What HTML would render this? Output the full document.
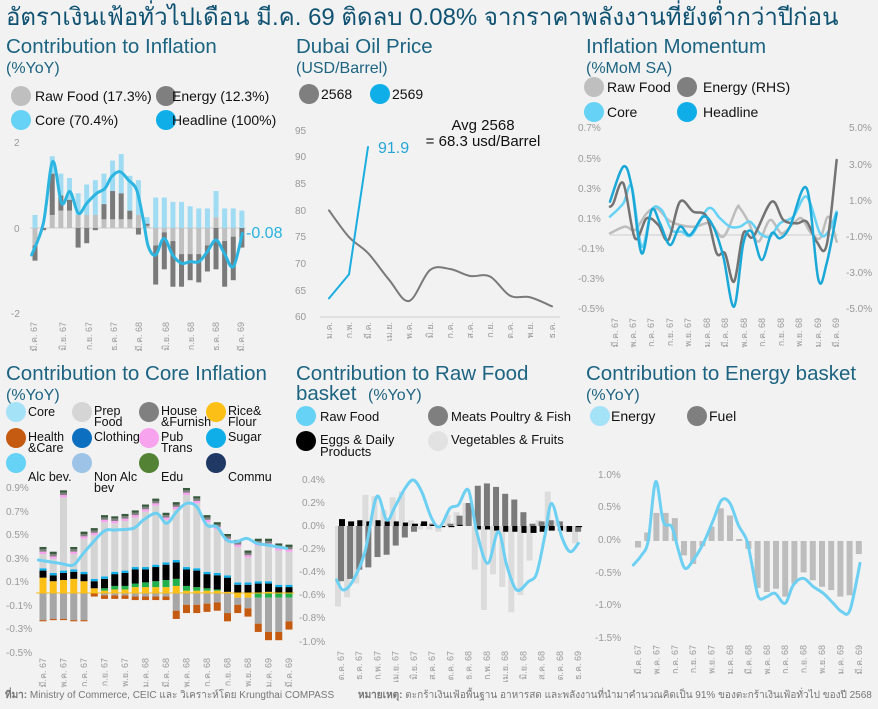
<!DOCTYPE html>
<html><head><meta charset="utf-8">
<style>
html,body{margin:0;padding:0;background:#f2f2f2;}
svg{display:block;font-family:"Liberation Sans","Noto Sans CJK SC",sans-serif;}
.t{fill:#1d6482;font-size:20.5px;}
.st{fill:#1d6482;font-size:16px;}
.lg{fill:#111;font-size:14px;}
.ax{fill:#999;font-size:10px;}
.xl{fill:#999;font-size:9px;}
</style></head><body>
<svg id="s" width="878" height="709" viewBox="0 0 878 709" xmlns="http://www.w3.org/2000/svg">
<rect width="878" height="709" fill="#f2f2f2"/>
<text x="6" y="25" fill="#0f5272" font-size="24" font-family="'Liberation Sans','Noto Sans CJK SC',sans-serif">อัตราเงินเฟ้อทั่วไปเดือน มี.ค. 69 ติดลบ 0.08% จากราคาพลังงานที่ยังต่ำกว่าปีก่อน</text>

<!-- Panel 1 -->
<text class="t" x="6" y="53">Contribution to Inflation</text>
<text class="st" x="6" y="73">(%YoY)</text>
<circle cx="21" cy="96" r="10" fill="#bfbfbf"/><text class="lg" x="35" y="101">Raw Food (17.3%)</text>
<circle cx="166" cy="96" r="10" fill="#7f7f7f"/><text class="lg" x="172" y="101">Energy (12.3%)</text>
<circle cx="21" cy="120" r="10" fill="#66d2f5"/><text class="lg" x="35" y="125">Core (70.4%)</text>
<circle cx="166" cy="120" r="10" fill="#10aee8"/><text class="lg" x="172" y="125">Headline (100%)</text>
<text class="ax" x="14" y="146">2</text><text class="ax" x="14" y="232">0</text><text class="ax" x="11" y="317">-2</text>
<line x1="30" y1="228" x2="246" y2="228" stroke="#ccc" stroke-width="1"/>
<g id="p1"></g>
<text x="246" y="238" fill="#26b3df" font-size="16">-0.08</text>
<g class="xl">
<text transform="translate(37,322) rotate(-90)" text-anchor="end">มี.ค. 67</text>
<text transform="translate(66,322) rotate(-90)" text-anchor="end">มิ.ย. 67</text>
<text transform="translate(92,322) rotate(-90)" text-anchor="end">ก.ย. 67</text>
<text transform="translate(117,322) rotate(-90)" text-anchor="end">ธ.ค. 67</text>
<text transform="translate(142,322) rotate(-90)" text-anchor="end">มี.ค. 68</text>
<text transform="translate(169,322) rotate(-90)" text-anchor="end">มิ.ย. 68</text>
<text transform="translate(194,322) rotate(-90)" text-anchor="end">ก.ย. 68</text>
<text transform="translate(219,322) rotate(-90)" text-anchor="end">ธ.ค. 68</text>
<text transform="translate(244,322) rotate(-90)" text-anchor="end">มี.ค. 69</text>
</g>

<!-- Panel 2 -->
<text class="t" x="296" y="53">Dubai Oil Price</text>
<text class="st" x="296" y="73">(USD/Barrel)</text>
<circle cx="309" cy="94" r="10" fill="#7f7f7f"/><text class="lg" x="321" y="99">2568</text>
<circle cx="380" cy="94" r="10" fill="#10aee8"/><text class="lg" x="392" y="99">2569</text>
<g class="ax">
<text x="295" y="134">95</text><text x="295" y="160">90</text><text x="295" y="187">85</text><text x="295" y="214">80</text><text x="295" y="240">75</text><text x="295" y="267">70</text><text x="295" y="294">65</text><text x="295" y="320">60</text>
</g>
<line x1="320" y1="317" x2="560" y2="317" stroke="#ccc"/>
<text x="483" y="130" fill="#111" font-size="15" text-anchor="middle">Avg 2568</text>
<text x="483" y="146" fill="#111" font-size="15" text-anchor="middle">= 68.3 usd/Barrel</text>
<text x="378" y="153" fill="#26a6d6" font-size="16">91.9</text>
<g id="p2"></g>
<g class="xl">
<text transform="translate(332,322) rotate(-90)" text-anchor="end">ม.ค.</text>
<text transform="translate(352,322) rotate(-90)" text-anchor="end">ก.พ.</text>
<text transform="translate(371,322) rotate(-90)" text-anchor="end">มี.ค.</text>
<text transform="translate(392,322) rotate(-90)" text-anchor="end">เม.ย.</text>
<text transform="translate(412,322) rotate(-90)" text-anchor="end">พ.ค.</text>
<text transform="translate(433,322) rotate(-90)" text-anchor="end">มิ.ย.</text>
<text transform="translate(453,322) rotate(-90)" text-anchor="end">ก.ค.</text>
<text transform="translate(473,322) rotate(-90)" text-anchor="end">ส.ค.</text>
<text transform="translate(493,322) rotate(-90)" text-anchor="end">ก.ย.</text>
<text transform="translate(513,322) rotate(-90)" text-anchor="end">ต.ค.</text>
<text transform="translate(533,322) rotate(-90)" text-anchor="end">พ.ย.</text>
<text transform="translate(555,322) rotate(-90)" text-anchor="end">ธ.ค.</text>
</g>

<!-- Panel 3 -->
<text class="t" x="586" y="53">Inflation Momentum</text>
<text class="st" x="586" y="73">(%MoM SA)</text>
<circle cx="594" cy="87" r="10" fill="#bfbfbf"/><text class="lg" x="607" y="92">Raw Food</text>
<circle cx="687" cy="87" r="10" fill="#7f7f7f"/><text class="lg" x="703" y="92">Energy (RHS)</text>
<circle cx="594" cy="112" r="10" fill="#66d2f5"/><text class="lg" x="607" y="117">Core</text>
<circle cx="687" cy="112" r="10" fill="#10aee8"/><text class="lg" x="703" y="117">Headline</text>
<g class="ax">
<text x="578" y="131">0.7%</text><text x="578" y="162">0.5%</text><text x="578" y="192">0.3%</text><text x="578" y="222">0.1%</text><text x="578" y="252">-0.1%</text><text x="578" y="282">-0.3%</text><text x="578" y="312">-0.5%</text>
<text x="849" y="131">5.0%</text><text x="849" y="168">3.0%</text><text x="849" y="204">1.0%</text><text x="846" y="240">-1.0%</text><text x="846" y="276">-3.0%</text><text x="846" y="312">-5.0%</text>
</g>
<line x1="610" y1="235" x2="838" y2="235" stroke="#ccc"/>
<g id="p3"></g>
<g class="xl">
<text transform="translate(618,318) rotate(-90)" text-anchor="end">มี.ค. 67</text>
<text transform="translate(636,318) rotate(-90)" text-anchor="end">พ.ค. 67</text>
<text transform="translate(654,318) rotate(-90)" text-anchor="end">ก.ค. 67</text>
<text transform="translate(673,318) rotate(-90)" text-anchor="end">ก.ย. 67</text>
<text transform="translate(691,318) rotate(-90)" text-anchor="end">พ.ย. 67</text>
<text transform="translate(710,318) rotate(-90)" text-anchor="end">ม.ค. 68</text>
<text transform="translate(728,318) rotate(-90)" text-anchor="end">มี.ค. 68</text>
<text transform="translate(747,318) rotate(-90)" text-anchor="end">พ.ค. 68</text>
<text transform="translate(765,318) rotate(-90)" text-anchor="end">ก.ค. 68</text>
<text transform="translate(784,318) rotate(-90)" text-anchor="end">ก.ย. 68</text>
<text transform="translate(802,318) rotate(-90)" text-anchor="end">พ.ย. 68</text>
<text transform="translate(821,318) rotate(-90)" text-anchor="end">ม.ค. 69</text>
<text transform="translate(839,318) rotate(-90)" text-anchor="end">มี.ค. 69</text>
</g>

<!-- Panel 4 -->
<text class="t" x="6" y="380">Contribution to Core Inflation</text>
<text class="st" x="6" y="400">(%YoY)</text>
<g class="lg" style="font-size:12.5px">
<circle cx="16" cy="412" r="10" fill="#a4e3f7"/><text x="28" y="416">Core</text>
<circle cx="82" cy="412" r="10" fill="#d5d5d5"/><text x="94" y="415">Prep</text><text x="94" y="426">Food</text>
<circle cx="149" cy="412" r="10" fill="#808080"/><text x="161" y="415">House</text><text x="161" y="426">&amp;Furnish</text>
<circle cx="216" cy="412" r="10" fill="#fbbf15"/><text x="228" y="415">Rice&amp;</text><text x="228" y="426">Flour</text>
<circle cx="16" cy="438" r="10" fill="#c55a11"/><text x="28" y="441">Health</text><text x="28" y="452">&amp;Care</text>
<circle cx="82" cy="438" r="10" fill="#0d6fbf"/><text x="94" y="441">Clothing</text>
<circle cx="149" cy="438" r="10" fill="#f8a3ee"/><text x="161" y="441">Pub</text><text x="161" y="452">Trans</text>
<circle cx="216" cy="438" r="10" fill="#10aee8"/><text x="228" y="441">Sugar</text>
<circle cx="16" cy="463" r="10" fill="#66d2f5"/><text x="28" y="481">Alc bev.</text>
<circle cx="82" cy="463" r="10" fill="#9dc3e6"/><text x="94" y="481">Non Alc</text><text x="94" y="492">bev</text>
<circle cx="149" cy="463" r="10" fill="#548235"/><text x="161" y="481">Edu</text>
<circle cx="216" cy="463" r="10" fill="#1f3864"/><text x="228" y="481">Commu</text>
</g>
<g class="ax">
<text x="6" y="491">0.9%</text><text x="6" y="515">0.7%</text><text x="6" y="538">0.5%</text><text x="6" y="562">0.3%</text><text x="6" y="585">0.1%</text><text x="6" y="609">-0.1%</text><text x="6" y="632">-0.3%</text><text x="6" y="656">-0.5%</text>
</g>
<g id="p4"></g>
<g id="x4" class="xl"></g>

<!-- Panel 5 -->
<text class="t" x="296" y="380">Contribution to Raw Food</text>
<text class="t" x="296" y="400">basket</text><text class="st" x="368" y="400">(%YoY)</text>
<g class="lg" style="font-size:13px">
<circle cx="306" cy="416" r="10" fill="#66d2f5"/><text x="320" y="421">Raw Food</text>
<circle cx="438" cy="416" r="10" fill="#7f7f7f"/><text x="451" y="421">Meats Poultry &amp; Fish</text>
<circle cx="306" cy="441" r="10" fill="#000"/><text x="320" y="444">Eggs &amp; Daily</text><text x="320" y="456">Products</text>
<circle cx="438" cy="441" r="10" fill="#e2e2e2"/><text x="451" y="444">Vegetables &amp; Fruits</text>
</g>
<g class="ax">
<text x="302" y="483">0.4%</text><text x="302" y="506">0.2%</text><text x="302" y="529">0.0%</text><text x="299" y="552">-0.2%</text><text x="299" y="575">-0.4%</text><text x="299" y="598">-0.6%</text><text x="299" y="621">-0.8%</text><text x="299" y="645">-1.0%</text>
</g>
<g id="p5"></g>
<g id="x5" class="xl"></g>

<!-- Panel 6 -->
<text class="t" x="586" y="380">Contribution to Energy basket</text>
<text class="st" x="586" y="400">(%YoY)</text>
<circle cx="600" cy="416" r="10" fill="#a4e3f7"/><text class="lg" x="611" y="421">Energy</text>
<circle cx="697" cy="416" r="10" fill="#7f7f7f"/><text class="lg" x="709" y="421">Fuel</text>
<g class="ax">
<text x="598" y="478">1.0%</text><text x="598" y="510">0.5%</text><text x="598" y="543">0.0%</text><text x="595" y="576">-0.5%</text><text x="595" y="608">-1.0%</text><text x="595" y="641">-1.5%</text>
</g>
<g id="p6"></g>
<g id="x6" class="xl"></g>

<text x="5" y="698" font-size="10" fill="#777" font-family="'Liberation Sans','Noto Sans CJK SC',sans-serif"><tspan font-weight="bold">ที่มา:</tspan> Ministry of Commerce, CEIC และ วิเคราะห์โดย Krungthai COMPASS</text>
<text x="358" y="698" font-size="10" fill="#777" font-family="'Liberation Sans','Noto Sans CJK SC',sans-serif"><tspan font-weight="bold">หมายเหตุ:</tspan> ตะกร้าเงินเฟ้อพื้นฐาน อาหารสด และพลังงานที่นำมาคำนวณคิดเป็น 91% ของตะกร้าเงินเฟ้อทั่วไป ของปี 2568</text>
</svg>
<script>
var NS="http://www.w3.org/2000/svg";
function el(g,tag,a){var e=document.createElementNS(NS,tag);for(var k in a)e.setAttribute(k,a[k]);document.getElementById(g).appendChild(e);return e;}
function rect(g,x,y0,y1,w,c){var t=Math.min(y0,y1),h=Math.abs(y1-y0);if(h<0.3)return;el(g,'rect',{x:x-w/2,y:t,width:w,height:h,fill:c});}
function smooth(p){var d="M"+p[0][0]+","+p[0][1];for(var i=0;i<p.length-1;i++){var a=p[i-1]||p[i],b=p[i],c=p[i+1],e=p[i+2]||c;
d+=" C"+(b[0]+(c[0]-a[0])/6)+","+(b[1]+(c[1]-a[1])/6)+" "+(c[0]-(e[0]-b[0])/6)+","+(c[1]-(e[1]-b[1])/6)+" "+c[0]+","+c[1];}return d;}
function line(g,pts,c,w,ox,oy,sm){var p=pts.map(function(q){return [ox+q[0]/3,oy+q[1]/3];});
el(g,'path',{d:sm===false?"M"+p.map(function(q){return q.join(",")}).join(" L"):smooth(p),fill:"none",stroke:c,"stroke-width":w,"stroke-linejoin":"round","stroke-linecap":"round"});}
function xlabels(g,xs,labels,y){xs.forEach(function(x,i){var t=el(g,'text',{transform:"translate("+(x+3)+","+y+") rotate(-90)","text-anchor":"end"});t.textContent=labels[i];});}

(function(){var z=228,s=43.5;
var core=[0.3,0,0.4,0.5,0.5,0.5,0.7,0.8,0.7,0.7,0.9,0.8,0.8,0.15,0.7,0.7,0.6,0.6,0.5,0.45,0.45,0.6,0.45,0.45,0.4];
var rawP=[0,0,0.3,0.4,0.4,0.3,0.3,0.3,0.2,0.2,0.2,0.2,0.3,0.05,0,0,0,0,0,0,0,0.25,0,0,0];
var en=[-0.35,-0.05,0.95,0.35,0.25,-0.45,-0.35,-0.05,0.35,0.65,0.6,0.2,-0.15,0.05,-0.9,-0.85,-1.05,-0.75,-0.6,-0.65,-0.6,-0.95,-1.05,-1.0,-0.45];
var rawN=[-0.4,0,0,0,0,0,0,0,0,0,0,0,0,0,-0.4,-0.1,-0.3,-0.6,-0.6,-0.6,-0.4,0,-0.3,-0.2,0];
for(var i=0;i<25;i++){var x=35+i*8.62,w=5;
var top=0;if(rawP[i]>0){rect('p1',x,z,z-rawP[i]*s,w,'#c0c0c0');top=rawP[i];}
if(en[i]>0){rect('p1',x,z-top*s,z-(top+en[i])*s,w,'#7a7a7a');top+=en[i];}
rect('p1',x,z-top*s,z-(top+core[i])*s,w,'#9fdcf3');
var b=0;if(rawN[i]<0){rect('p1',x,z,z-rawN[i]*s,w,'#c0c0c0');b=rawN[i];}
if(en[i]<0){rect('p1',x,z-b*s,z-(b+en[i])*s,w,'#7a7a7a');}}
line('p1',[[95,375],[130,280],[158,95],[185,220],[210,185],[235,250],[260,220],[290,190],[315,175],[335,140],[360,125],[385,150],[410,180],[430,270],[445,350],[467,375],[492,325],[518,375],[545,400],[570,395],[597,395],[622,365],[648,330],[673,370],[700,410],[727,310]],'#2cb5e0',3,0,130);
})();

(function(){var xs=[329,349,368,389,409,430,450,470,490,510,530,552];var y=function(v){return 317-(v-60)*5.33;};
var g=[80,75,72,67,63,68.8,69,67.7,67.6,64,63.7,62];
var p=xs.map(function(x,i){return [x*3,y(g[i])*3]});line('p2',p,'#7a7a7a',2,0,0);
var b=[63.5,68,91.9];line('p2',b.map(function(v,i){return [xs[i]*3,y(v)*3]}),'#1aaee0',2,0,0,false);
})();

(function(){var ox=580,oy=120;
line('p3',[[90,340],[135,320],[165,330],[200,280],[230,265],[265,300],[300,315],[345,320],[390,310],[430,350],[470,265],[480,265],[505,305],[535,365],[570,300],[605,340],[640,310],[665,295],[690,335],[720,355],[745,290],[770,365]],'#bdbdbd',2.5,ox,oy);
line('p3',[[90,290],[130,250],[155,200],[185,380],[215,270],[245,270],[275,330],[305,335],[335,345],[385,265],[420,295],[450,320],[480,320],[510,305],[540,340],[570,350],[600,310],[640,290],[680,230],[720,340],[745,335],[770,275]],'#66d2f5',2.5,ox,oy);
line('p3',[[90,260],[100,250],[130,190],[165,355],[200,295],[235,315],[265,360],[300,245],[340,275],[380,290],[410,400],[435,400],[462,485],[490,340],[520,350],[575,245],[610,300],[650,310],[680,305],[710,365],[740,375],[770,120]],'#737373',2.5,ox,oy);
line('p3',[[90,245],[130,140],[155,200],[185,400],[215,270],[240,310],[270,375],[300,320],[330,345],[370,290],[400,320],[430,410],[462,560],[490,370],[515,335],[545,420],[575,340],[600,355],[630,320],[680,205],[715,478],[740,430],[770,280]],'#1aa8d8',2.5,ox,oy);
})();

(function(){var z=593,s=118;
var tot=[0.39,0.35,0.87,0.39,0.52,0.55,0.66,0.65,0.67,0.70,0.75,0.80,0.68,0.77,0.89,0.82,0.66,0.60,0.50,0.45,0.36,0.46,0.46,0.42,0.41];
var neg=[-0.24,-0.23,-0.23,-0.24,-0.24,-0.03,-0.05,-0.05,-0.05,-0.06,-0.06,-0.06,-0.06,-0.22,-0.17,-0.17,-0.16,-0.15,-0.24,-0.17,-0.2,-0.33,-0.40,-0.40,-0.31];
var yel=[0.13,0.1,0.11,0.12,0.1,0.04,0.02,0.03,0.03,0.05,0.05,0.05,0.05,0.06,0.02,0.02,0.02,0.02,0.01,0,0,0,0.01,0,0];
var grn=[0,0,0,0,0,0,0.02,0.03,0.03,0.03,0.04,0.05,0.06,0.06,0.04,0.03,0.02,0.01,0,0,0,0,0,0,0];
var blk=[0.06,0.05,0.06,0.06,0.06,0.06,0.08,0.1,0.11,0.12,0.11,0.12,0.13,0.14,0.14,0.14,0.12,0.12,0.12,0.07,0.07,0.08,0.07,0.05,0.05];
var xs=[];
for(var i=0;i<25;i++){var x=43+i*10.25,w=7;xs.push(x);var t=0;
[[yel[i],'#fbbf15'],[grn[i],'#21b04b'],[blk[i],'#000'],[0.02,'#10aee8']].forEach(function(a){rect('p4',x,z-t*s,z-(t+a[0])*s,w,a[1]);t+=a[0];});
var top=tot[i];var pg=top-t-0.06;if(pg<0)pg=0;rect('p4',x,z-t*s,z-(t+pg)*s,w,'#d4d4d4');t+=pg;
rect('p4',x,z-t*s,z-(t+0.02)*s,w,'#f8a3ee');t+=0.02;rect('p4',x,z-t*s,z-(t+0.02)*s,w,'#808080');t+=0.02;rect('p4',x,z-t*s,z-(t+0.02)*s,w,'#3a5a40');
var o=(i<5)?0.01:(i<13?0.03:0.07);var gr=-neg[i]-o;if(gr<0)gr=0;
var b=0;if(i>=19){rect('p4',x,z,z+0.04*s,w,i>20?'#21b04b':'#fbbf15');b=0.04;gr-=0.04;if(gr<0)gr=0;}
rect('p4',x,z+b*s,z+(b+gr)*s,w,'#a6a6a6');rect('p4',x,z+(b+gr)*s,z+(b+gr+o)*s,w,'#c55a11');}
el('p4','line',{x1:36,y1:z,x2:294,y2:z,stroke:'#fbbf15','stroke-width':1});
line('p4',[[115,270],[180,280],[220,285],[250,250],[310,185],[345,180],[400,175],[430,150],[470,130],[500,160],[530,125],[560,100],[590,110],[620,165],[650,170],[680,210],[710,215],[740,205],[770,220],[800,225],[860,235]],'#6dd0f2',3,0,470);
var L=[],X=[];var m=["มี.ค. 67","พ.ค. 67","ก.ค. 67","ก.ย. 67","พ.ย. 67","ม.ค. 68","มี.ค. 68","พ.ค. 68","ก.ค. 68","ก.ย. 68","พ.ย. 68","ม.ค. 69","มี.ค. 69"];
for(var k=0;k<13;k++){X.push(xs[k*2]);L.push(m[k]);}xlabels('x4',X,L,658);
})();

(function(){var z=526,s=115;
var lg=[-0.7,-0.62,-0.5,0.27,0.26,0.14,0.25,0.3,0.05,-0.03,-0.03,-0.05,0.1,0.12,0.2,-0.38,-0.73,-0.42,-0.53,-0.75,-0.6,-0.3,0.05,0.3,0.05,-0.05,-0.15];
var dg=[-0.48,-0.46,-0.38,-0.36,-0.27,-0.25,-0.17,-0.1,-0.05,0.02,0.02,0,0.02,0.09,0.2,0.35,0.37,0.34,0.28,0.23,0.12,0.02,0.04,0.05,0.04,-0.05,-0.05];
var bk=[0.06,0.04,0.05,0.04,0.05,0.04,0.04,0.03,0.02,0.04,0.01,-0.01,-0.01,0.01,0,-0.03,-0.03,-0.04,-0.05,-0.05,-0.06,-0.06,-0.05,-0.04,-0.04,-0.05,-0.01];
var xs=[];
for(var i=0;i<27;i++){var x=341+i*9.12;xs.push(x);
rect('p5',x-3,z,z-lg[i]*s,6,'#dcdcdc');rect('p5',x,z,z-dg[i]*s,6,'#7a7a7a');
rect('p5',x+1,z,z-bk[i]*s,6,'#000');}
line('p5',[[125,345],[145,375],[175,345],[210,260],[245,95],[275,165],[300,125],[330,70],[355,45],[380,80],[410,160],[435,185],[465,130],[490,120],[520,75],[545,200],[578,295],[610,200],[635,300],[665,375],[700,350],[725,325],[750,210],[770,115],[800,215],[825,260],[850,235]],'#6dd0f2',3,295,465);
var m=["ต.ค. 67","ธ.ค. 67","ก.พ. 67","เม.ย. 67","มิ.ย. 67","ส.ค. 67","ต.ค. 67","ธ.ค. 68","ก.พ. 68","เม.ย. 68","มิ.ย. 68","ส.ค. 68","ต.ค. 68","ธ.ค. 69"];
var X=[];for(var k=0;k<14;k++)X.push(xs[Math.min(k*2,26)]);xlabels('x5',X,m,651);
})();

(function(){var z=541,s=65.4;
var v=[-0.1,0.13,0.43,0.43,0.35,-0.22,-0.35,-0.08,0.22,0.5,0.39,0.03,-0.12,-0.72,-0.78,-0.73,-0.85,-0.65,-0.48,-0.6,-0.7,-0.75,-0.85,-0.83,-0.2];
var xs=[];for(var i=0;i<25;i++){var x=638+i*9.2;xs.push(x);rect('p6',x,z,z-v[i]*s,6,'#bdbdbd');}
line('p6',[[145,315],[170,285],[190,240],[212,65],[235,185],[260,200],[280,270],[300,325],[325,300],[355,250],[385,180],[410,120],[435,130],[460,195],[485,240],[500,310],[520,410],[545,410],[570,400],[600,430],[625,375],[655,355],[685,380],[715,400],[745,430],[770,455],[795,450],[825,310]],'#6dd0f2',3,585,460);
var m=["มี.ค. 67","พ.ค. 67","ก.ค. 67","ก.ย. 67","พ.ย. 67","ม.ค. 68","มี.ค. 68","พ.ค. 68","ก.ค. 68","ก.ย. 68","พ.ย. 68","ม.ค. 69","มี.ค. 69"];
var X=[];for(var k=0;k<13;k++)X.push(xs[k*2]);xlabels('x6',X,m,645);
})();
</script>
</body></html>
